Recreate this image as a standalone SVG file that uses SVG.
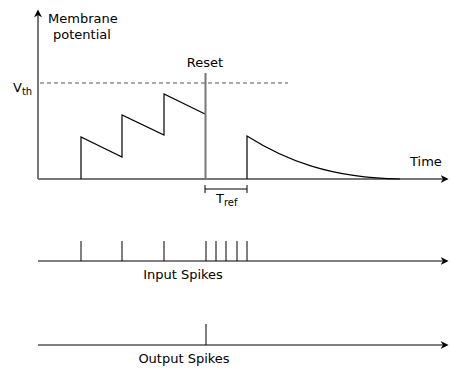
<svg xmlns="http://www.w3.org/2000/svg" width="450" height="369" viewBox="0 0 450 369">
<style>
text{font-family:"DejaVu Sans",Verdana,sans-serif;font-size:13px;fill:#000}
.sub{font-size:10px}
.axis{stroke:#777;stroke-width:2;fill:none}
.ln{stroke:#000;stroke-width:1.2;fill:none}
.sp{stroke:#000;stroke-width:1;fill:none}
</style>
<defs>
<marker id="ah" viewBox="0 0 10 10" refX="8" refY="5" markerWidth="8" markerHeight="8" markerUnits="userSpaceOnUse" orient="auto">
<path d="M0,0 L10,5 L0,10 L3,5 Z" fill="#000"/>
</marker>
</defs>
<g id="connectors">
<line class="axis" x1="38" y1="179" x2="38" y2="11" marker-end="url(#ah)"/>
<line class="axis" x1="38" y1="179" x2="447" y2="179" marker-end="url(#ah)"/>
<line x1="40" y1="83" x2="288" y2="83" stroke="#555" stroke-width="1.2" stroke-dasharray="4,3"/>
<path class="ln" d="M81,179 V137 L122,157 V115 L164,135 V94 L205,114"/>
<line class="axis" x1="205.5" y1="179" x2="205.5" y2="73" stroke-width="1.5"/>
<path class="ln" d="M247,179 V136 C285,160 330,178 400,179"/>
<path class="sp" d="M205,189 H247 M205,185 V193 M247,185 V193"/>
<line x1="38" y1="261" x2="447" y2="261" stroke="#000" stroke-width="1.2" marker-end="url(#ah)"/>
<path class="sp" d="M81,241 V261 M122,241 V261 M164,241 V261 M206,241 V261 M216,241 V261 M226,241 V261 M237,241 V261 M247,241 V261"/>
<line x1="38" y1="345" x2="447" y2="345" stroke="#000" stroke-width="1.2" marker-end="url(#ah)"/>
<path class="sp" d="M206,324 V345"/>
</g>
<g id="label-membrane"><text x="48" y="23">Membrane</text><text x="53" y="39">potential</text></g>
<g id="label-vth"><text x="13" y="92">V<tspan class="sub" dy="3">th</tspan></text></g>
<g id="label-reset"><text x="205" y="67" text-anchor="middle">Reset</text></g>
<g id="label-time"><text x="410" y="166">Time</text></g>
<g id="label-tref"><text x="216" y="203">T<tspan class="sub" dy="3">ref</tspan></text></g>
<g id="label-input"><text x="183" y="279" text-anchor="middle">Input Spikes</text></g>
<g id="label-output"><text x="184" y="363" text-anchor="middle">Output Spikes</text></g>
</svg>
